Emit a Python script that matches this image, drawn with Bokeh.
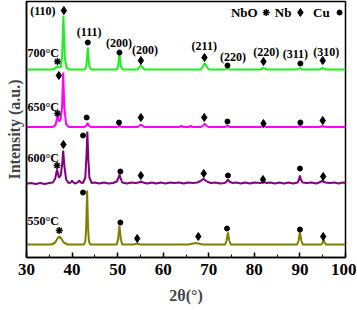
from bokeh.plotting import figure
from bokeh.models import Range1d, SingleIntervalTicker, FixedTicker
from bokeh.core.properties import value
from bokeh.embed import file_html
from bokeh.resources import INLINE

# ---------------- data (2theta in degrees, intensity in arbitrary offset units) -------------
green_pts = [(30, 188), (35.8, 188), (36.4, 189.5), (36.8, 191.5), (37.2, 190), (37.55, 191), (37.8, 200),
             (38.1, 242), (38.4, 200), (38.8, 189.5), (39.4, 188), (42.8, 188), (43.1, 191), (43.3, 200),
             (43.45, 210), (43.6, 200), (43.8, 191), (44.2, 188), (49.8, 188), (50.1, 191), (50.25, 198),
             (50.4, 206), (50.55, 198), (50.7, 191), (51.1, 188), (54.3, 188), (54.8, 190.5), (55.1, 192.5),
             (55.4, 190.5), (55.9, 188), (68.2, 188), (68.7, 191), (69.1, 194.5), (69.5, 191), (70.0, 188),
             (73.6, 188), (74.1, 189.5), (74.6, 188), (81.3, 188), (82.0, 189.5), (82.7, 188), (89.5, 188),
             (90.0, 189.5), (90.5, 188), (94.3, 188), (95.0, 189.5), (95.7, 188), (100, 188)]

magenta_pts = [(30, 130.5), (35.8, 130.5), (36.4, 133), (36.8, 142), (37.15, 136), (37.5, 138), (37.8, 150),
               (38.05, 185), (38.3, 150), (38.7, 133), (39.3, 130.5), (42.7, 130.5), (43.15, 132), (43.4, 134.5),
               (43.65, 132), (44.1, 130.5), (49.9, 130.5), (50.4, 132), (50.9, 130.5), (54.4, 130.5), (55.1, 133),
               (55.8, 130.5), (63.5, 130.5), (64.0, 131.5), (64.5, 130.5), (65.5, 130.5), (66.0, 131.5),
               (66.5, 130.5), (68.3, 130.5), (68.8, 132), (69.1, 134), (69.4, 132), (69.9, 130.5), (73.6, 130.5),
               (74.1, 132), (74.6, 130.5), (81.4, 130.5), (82.0, 131.5), (82.6, 130.5), (89.5, 130.5),
               (90.0, 131.5), (90.5, 130.5), (94.4, 130.5), (95.0, 131.5), (95.6, 130.5), (100, 130.5)]

purple_pts = [(30, 73.7), (31, 74.5), (32, 73.5), (33, 74.5), (34, 73.5), (35, 74.5), (35.8, 75), (36.3, 79),
              (36.7, 88), (37.1, 80), (37.5, 82), (37.8, 92), (38.05, 107), (38.3, 92), (38.7, 78), (39.2, 74.5),
              (39.7, 75), (40.0, 77), (40.3, 75), (40.8, 74), (41.3, 75.5), (41.6, 77), (41.9, 75), (42.4, 74.5),
              (42.9, 80), (43.15, 100), (43.35, 126), (43.55, 100), (43.8, 80), (44.3, 74.5), (45, 75), (46, 74),
              (47, 75), (48, 74), (49, 74.5), (49.8, 76), (50.2, 80), (50.4, 83), (50.6, 80), (51.0, 75),
              (52, 74), (53, 75), (54, 74.5), (54.6, 75), (55.1, 76), (55.6, 75), (56.5, 74), (57.5, 75),
              (58.5, 74), (59.5, 75), (60.5, 74), (61.5, 75), (62.5, 74.5), (63.5, 75), (64.5, 74), (65.5, 75),
              (66.5, 74.5), (67.5, 75), (68.2, 76.5), (68.6, 78), (68.9, 78.5), (69.3, 77), (69.8, 75.5),
              (70.5, 74.5), (71.5, 75), (72.5, 74), (73.5, 74.5), (73.9, 76), (74.2, 78), (74.5, 76),
              (75.2, 74.5), (76, 75), (77, 74), (78, 75), (79, 74), (80, 75), (81.3, 74.5), (82.0, 75.5),
              (82.7, 74.5), (83.5, 75), (84.5, 74), (85.5, 75), (86.5, 74), (87.5, 75), (88.5, 74), (89.5, 75),
              (89.8, 78), (90.0, 82), (90.2, 78), (90.6, 75), (91.5, 74.5), (92.5, 75), (93.5, 74), (94.2, 75),
              (94.9, 76.5), (95.6, 75), (96.5, 74.5), (97.5, 75), (98.5, 74), (99.3, 75), (100, 74.5)]

olive_pts = [(30, 13), (35.5, 13), (36.3, 15), (36.8, 19), (37.2, 21), (37.6, 19), (38.2, 15), (39.0, 13),
             (42.6, 13), (42.9, 16), (43.1, 30), (43.3, 67), (43.5, 30), (43.7, 16), (44.0, 13), (49.8, 13),
             (50.1, 18), (50.4, 32), (50.7, 18), (51.0, 13), (53.5, 13), (54.3, 14), (55.0, 13), (65.5, 13),
             (67.1, 14.5), (68.7, 13), (73.6, 13), (73.9, 17), (74.2, 25), (74.5, 17), (74.8, 13), (89.4, 13),
             (89.7, 17), (90.0, 25.5), (90.3, 17), (90.6, 13), (94.7, 13), (95.0, 15), (95.2, 18), (95.4, 15),
             (95.7, 13), (100, 13)]

series = [
    ("700", green_pts, "#1EF01E"),
    ("650", magenta_pts, "#FF00FF"),
    ("600", purple_pts, "#800080"),
    ("550", olive_pts, "#808000"),
]

# phase markers (NbO star, Nb diamond, Cu dot)
star_x = [36.8, 36.8, 36.7, 37.2]
star_y = [196, 144, 92, 27]
diamond_x = [38.2, 55.1, 69.06, 82.0, 95.0, 37.1, 55.1, 69.0, 82.0, 95.0, 38.1, 55.1, 68.9, 81.9, 95.1,
             54.3, 67.7, 95.1]
diamond_y = [247, 197, 200, 196, 197, 182, 140, 140, 134, 137, 113, 82, 84, 78, 81, 19, 21, 21]
dot_x = [43.45, 50.4, 74.1, 90.1, 43.2, 50.3, 74.1, 90.1, 42.4, 50.6, 74.2, 90.0, 42.4, 50.6, 74.0, 90.0]
dot_y = [215, 205, 192, 194, 140, 135, 136, 135, 122, 86, 82, 89, 65, 35, 29, 28]

# Miller indices
hkl_text = ["(110)", "(111)", "(200)", "(200)", "(211)", "(220)", "(220)", "(311)", "(310)"]
hkl_x = [33.6, 43.75, 50.3, 56.0, 69.0, 75.3, 82.6, 89.0, 95.8]
hkl_y = [246.5, 226, 215, 207.5, 212, 201, 206, 204, 206]

# temperature labels
temp_text = ["700°C", "650°C", "600°C", "550°C"]
temp_x = [30.2, 30.2, 30.2, 30.2]
temp_y = [205, 151, 100, 37]

# legend
legend_text = ["NbO", "Nb", "Cu"]
legend_text_x = [77.8, 86.3, 94.7]
legend_y = 245
legend_star_x = [82.6]
legend_diamond_x = [90.1]
legend_dot_x = [98.7]

# ---------------- figure ----------------
FONT = "Liberation Serif"
p = figure(width=356, height=309, x_range=Range1d(30, 100), y_range=Range1d(0, 256),
           output_backend="svg", toolbar_location=None,
           min_border_left=26, min_border_right=11, min_border_top=1, min_border_bottom=52)
p.grid.visible = False
p.outline_line_color = "black"
p.outline_line_width = 1.5
p.background_fill_color = "white"
p.border_fill_color = "white"

for name, pts, col in series:
    xs = [a for a, b in pts]
    ys = [b for a, b in pts]
    p.line(xs, ys, line_color=col, line_width=2)

p.scatter(star_x, star_y, marker="asterisk", size=7, line_color="black", line_width=1.5)
p.scatter(diamond_x, diamond_y, marker="diamond", size=8, fill_color="black", line_color="black")
p.scatter(dot_x, dot_y, marker="circle", size=5, fill_color="black", line_color="black")

p.text(x=hkl_x, y=hkl_y, text=hkl_text, text_font=value(FONT), text_font_style="bold",
       text_font_size="12px", text_align="center", text_baseline="middle", text_color="black")
p.text(x=temp_x, y=temp_y, text=temp_text, text_font=value(FONT), text_font_style="bold",
       text_font_size="12px", text_align="left", text_baseline="middle", text_color="black")
p.text(x=legend_text_x, y=[legend_y] * 3, text=legend_text, text_font=value(FONT), text_font_style="bold",
       text_font_size="13px", text_align="center", text_baseline="middle", text_color="black")
p.scatter(legend_star_x, [legend_y], marker="asterisk", size=7, line_color="black", line_width=1.5)
p.scatter(legend_diamond_x, [legend_y], marker="diamond", size=8, fill_color="black", line_color="black")
p.scatter(legend_dot_x, [legend_y], marker="circle", size=5, fill_color="black", line_color="black")

xa = p.xaxis[0]
xa.ticker = SingleIntervalTicker(interval=10, num_minor_ticks=2)
xa.major_tick_in = 5
xa.major_tick_out = 0
xa.minor_tick_in = 3
xa.minor_tick_out = 0
xa.axis_line_width = 1.5
xa.major_tick_line_width = 1.5
xa.major_label_text_font = FONT
xa.major_label_text_font_style = "bold"
xa.major_label_text_font_size = "17px"
xa.major_label_text_color = "black"
xa.major_label_standoff = 6
xa.axis_label = "2θ(°)"
xa.axis_label_text_font = FONT
xa.axis_label_text_font_style = "bold"
xa.axis_label_text_font_size = "16px"
xa.axis_label_standoff = 9

ya = p.yaxis[0]
ya.ticker = FixedTicker(ticks=[])
ya.axis_line_width = 1.5
ya.major_tick_line_color = None
ya.minor_tick_line_color = None
ya.axis_label = "Intensity (a.u.)"
ya.axis_label_text_font = FONT
ya.axis_label_text_font_style = "bold"
ya.axis_label_text_font_size = "16px"
ya.axis_label_standoff = 4

open("out.html", "w").write(file_html(p, INLINE))
